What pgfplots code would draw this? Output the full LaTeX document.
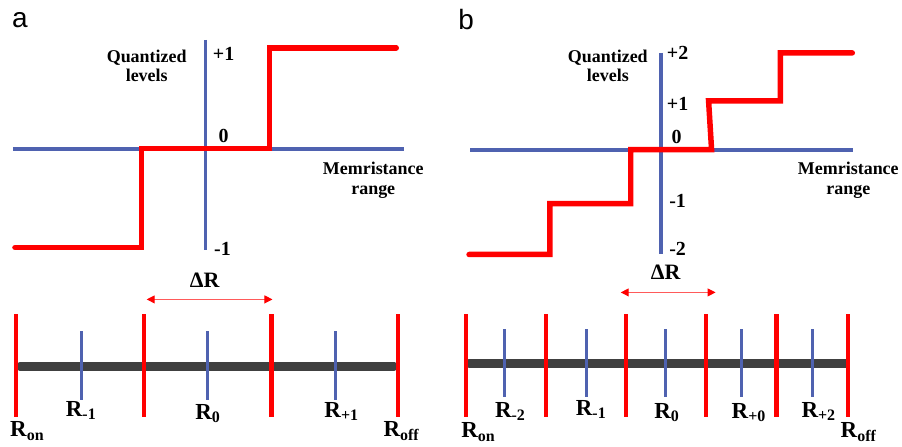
\documentclass[border=0pt]{standalone}
\usepackage{fontspec}
\setmainfont{Liberation Serif}
\newfontfamily\sansf{Liberation Sans}
\usepackage{pgfplots}
\pgfplotsset{compat=1.18}
\usetikzlibrary{arrows.meta}
\definecolor{axblue}{RGB}{79,98,176}
\definecolor{barGray}{RGB}{64,64,64}
\definecolor{stepRed}{RGB}{255,0,0}
\definecolor{arrRed}{RGB}{255,90,90}
\newcommand\lab{\fontsize{18}{20}\selectfont\bfseries}
\newcommand\num{\fontsize{20}{22}\selectfont\bfseries}
\newcommand\Rlab[1]{\fontsize{23}{25}\selectfont\bfseries R\raisebox{-0.3ex}{\fontsize{16}{16}\selectfont #1}}
\tikzset{redarr/.style={arrRed,line width=1pt,{Triangle[length=8pt,width=8pt,color=stepRed,fill=stepRed]}-{Triangle[length=8pt,width=8pt,color=stepRed,fill=stepRed]}}}
\begin{document}
\begin{tikzpicture}
\begin{axis}[x=1pt,y=1pt,y dir=reverse,xmin=0,xmax=902,ymin=0,ymax=447,
  hide axis,clip=false,scale only axis]
\addplot[draw=none] coordinates {(0,0) (902,447)};
% ---------- panel a top ----------
\addplot[axblue,line width=3.8pt] coordinates {(13,149) (405,149)};
\addplot[axblue,line width=3.8pt] coordinates {(206,40) (206,250)};
\addplot[stepRed,line width=5.5pt,line cap=round] coordinates {(15,248) (142,248) (142,149) (270,149) (270,48) (397,48)};
% ---------- panel b top ----------
\addplot[axblue,line width=3.8pt] coordinates {(471,150) (855,150)};
\addplot[axblue,line width=3.8pt] coordinates {(662,53) (662,255)};
\addplot[stepRed,line width=5.5pt,line cap=round] coordinates {(470,255) (551,255) (551,204) (632,204) (632,150) (713,150) (710,101) (782,101) (782,53) (854,53)};
% ---------- panel a bottom ----------
\addplot[barGray,line width=8.5pt,line cap=round] coordinates {(20,367) (395,367)};
\addplot[stepRed,line width=4.2pt] coordinates {(16,315) (16,418)};
\addplot[stepRed,line width=4.2pt] coordinates {(144,315) (144,418)};
\addplot[stepRed,line width=4.2pt] coordinates {(272,315) (272,418)};
\addplot[stepRed,line width=4.2pt] coordinates {(399,315) (399,418)};
\addplot[axblue,line width=3pt] coordinates {(82,332) (82,401)};
\addplot[axblue,line width=3pt] coordinates {(208,332) (208,401)};
\addplot[axblue,line width=3pt] coordinates {(336,332) (336,401)};
\addplot[redarr] coordinates {(147,300) (273,300)};
% ---------- panel b bottom ----------
\addplot[barGray,line width=8.5pt,line cap=round] coordinates {(470,364) (847,364)};
\addplot[stepRed,line width=4.2pt] coordinates {(467,315) (467,418)};
\addplot[stepRed,line width=4.2pt] coordinates {(547,315) (547,418)};
\addplot[stepRed,line width=4.2pt] coordinates {(627,315) (627,418)};
\addplot[stepRed,line width=4.2pt] coordinates {(707,315) (707,418)};
\addplot[stepRed,line width=4.2pt] coordinates {(778,315) (778,418)};
\addplot[stepRed,line width=4.2pt] coordinates {(850,315) (850,418)};
\addplot[axblue,line width=3pt] coordinates {(506,330) (506,398)};
\addplot[axblue,line width=3pt] coordinates {(588,330) (588,398)};
\addplot[axblue,line width=3pt] coordinates {(667,330) (667,398)};
\addplot[axblue,line width=3pt] coordinates {(743,330) (743,398)};
\addplot[axblue,line width=3pt] coordinates {(814,330) (814,398)};
\addplot[redarr] coordinates {(622,293) (717,293)};
% ---------- text ----------
\node[font=\sansf\fontsize{28}{30}\selectfont] at (axis cs:20,20) {a};
\node[font=\sansf\fontsize{28}{30}\selectfont] at (axis cs:467,20) {b};
\node[font=\lab,align=center] at (axis cs:147,66) {Quantized\\levels};
\node[font=\lab,align=center] at (axis cs:374,181) {Memristance\\range};
\node[font=\num] at (axis cs:224,54) {+1};
\node[font=\num] at (axis cs:224,136) {0};
\node[font=\num] at (axis cs:223,249) {-1};
\node[font=\lab,align=center] at (axis cs:609,66) {Quantized\\levels};
\node[font=\lab,align=center] at (axis cs:850,181) {Memristance\\range};
\node[font=\num] at (axis cs:679,53) {+2};
\node[font=\num] at (axis cs:679,104) {+1};
\node[font=\num] at (axis cs:678,137) {0};
\node[font=\num] at (axis cs:679,201) {-1};
\node[font=\num] at (axis cs:679,249) {-2};
\node[font=\fontsize{22}{24}\selectfont\bfseries] at (axis cs:205,281) {ΔR};
\node[font=\fontsize{22}{24}\selectfont\bfseries] at (axis cs:667,273) {ΔR};
\node at (axis cs:27,432) {\Rlab{on}};
\node at (axis cs:81,411) {\Rlab{-1}};
\node at (axis cs:208,414) {\Rlab{0}};
\node at (axis cs:342,412) {\Rlab{+1}};
\node at (axis cs:402,432) {\Rlab{off}};
\node at (axis cs:479,433) {\Rlab{on}};
\node at (axis cs:511,412) {\Rlab{-2}};
\node at (axis cs:592,410) {\Rlab{-1}};
\node at (axis cs:668,413) {\Rlab{0}};
\node at (axis cs:750,413) {\Rlab{+0}};
\node at (axis cs:820,412) {\Rlab{+2}};
\node at (axis cs:860,433) {\Rlab{off}};
\end{axis}
\end{tikzpicture}
\end{document}
